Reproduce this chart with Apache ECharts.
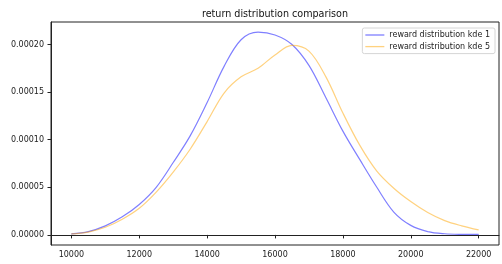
<!DOCTYPE html>
<html>
<head>
<meta charset="utf-8">
<script src="https://cdn.jsdelivr.net/npm/echarts@6/dist/echarts.min.js"></script>
<style>
  html, body { margin: 0; padding: 0; background: #fff; }
  #main { width: 502px; height: 264px; }
</style>
</head>
<body>
<div id="main"></div>
<script>
const xValues = [10000, 10500, 11000, 11500, 12000, 12500, 13000, 13500, 14000, 14500, 15000, 15500,
    16000, 16500, 17000, 17500, 18000, 18500, 19000, 19500, 20000, 20500, 21000, 21500, 22000]
const kde1 = [1.0e-6, 3.5e-6, 9.5e-6, 1.9e-5, 3.2e-5, 5.0e-5, 7.6e-5, 1.04e-4, 1.39e-4, 1.77e-4, 2.05e-4, 2.13e-4,
    2.10e-4, 2.00e-4, 1.78e-4, 1.44e-4, 1.09e-4, 7.9e-5, 5.0e-5, 2.4e-5, 1.0e-5, 3.5e-6, 1.2e-6, 6e-7, 5e-7]
const kde5 = [1.0e-6, 3.0e-6, 8.0e-6, 1.65e-5, 2.8e-5, 4.5e-5, 6.6e-5, 9.0e-5, 1.19e-4, 1.49e-4, 1.66e-4, 1.75e-4,
    1.89e-4, 1.99e-4, 1.93e-4, 1.66e-4, 1.28e-4, 9.4e-5, 6.7e-5, 4.9e-5, 3.5e-5, 2.35e-5, 1.5e-5, 9.5e-6, 5.2e-6]
const xTicks = [10000, 12000, 14000, 16000, 18000, 20000, 22000]
const yTicks = [0, 0.00005, 0.0001, 0.00015, 0.0002]
const seriesNames = ['reward distribution kde 1', 'reward distribution kde 5']

const font = 'DejaVu Sans'
const axisColor = '#222'

let myChart = echarts.init(document.getElementById('main'))

const toPairs = (ys) => xValues.map((x, i) => [x, ys[i]])

let option = {
    animation: false,
    backgroundColor: '#fff',
    title: {
        text: 'return distribution comparison',
        left: 275,
        top: 9,
        padding: 0,
        textAlign: 'center',
        textStyle: {fontFamily: font, fontSize: 9.6, fontWeight: 'normal', color: '#111'}
    },
    legend: {
        orient: 'vertical',
        right: 7,
        top: 28,
        padding: [3, 5, 3, 3],
        itemWidth: 19,
        itemHeight: 1.3,
        itemGap: 3.6,
        borderColor: '#d6d6d6',
        borderWidth: 1,
        borderRadius: 2,
        textStyle: {fontFamily: font, fontSize: 8, lineHeight: 8, color: '#222'},
        data: seriesNames.map(name => ({name: name, icon: 'rect'}))
    },
    grid: {
        left: 51,
        right: 3,
        top: 22,
        bottom: 19,
        show: true,
        borderColor: axisColor,
        borderWidth: 1,
        backgroundColor: 'transparent'
    },
    xAxis: {
        type: 'value',
        min: 9400,
        max: 22600,
        axisLine: {show: true, lineStyle: {color: axisColor}},
        axisTick: {show: true, length: 3.5, customValues: xTicks, lineStyle: {color: axisColor}},
        axisLabel: {
            customValues: xTicks,
            margin: 6,
            fontFamily: font,
            fontSize: 8,
            color: axisColor,
            formatter: v => String(v)
        },
        splitLine: {show: false}
    },
    yAxis: {
        type: 'value',
        min: -0.0000106,
        max: 0.0002236,
        axisLine: {show: true, lineStyle: {color: axisColor}},
        axisTick: {show: true, length: 3.5, customValues: yTicks, lineStyle: {color: axisColor}},
        axisLabel: {
            customValues: yTicks,
            margin: 7,
            fontFamily: font,
            fontSize: 8,
            color: axisColor,
            formatter: v => v.toFixed(5)
        },
        splitLine: {show: false}
    },
    series: [
        {
            name: seriesNames[0],
            type: 'line',
            smooth: 0.35,
            symbol: 'none',
            data: toPairs(kde1),
            lineStyle: {color: 'rgba(0,0,255,0.5)', width: 1.2},
            itemStyle: {color: 'rgba(0,0,255,0.5)'}
        },
        {
            name: seriesNames[1],
            type: 'line',
            smooth: 0.35,
            symbol: 'none',
            data: toPairs(kde5),
            lineStyle: {color: 'rgba(255,165,0,0.5)', width: 1.2},
            itemStyle: {color: 'rgba(255,165,0,0.5)'}
        }
    ]
}

myChart.setOption(option)
</script>
</body>
</html>
